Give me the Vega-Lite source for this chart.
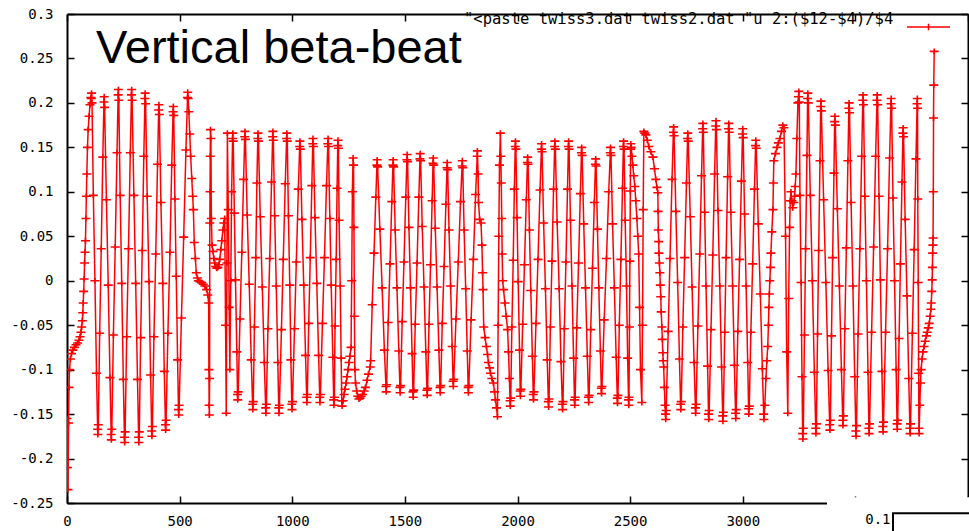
{
"$schema":"https://vega.github.io/schema/vega-lite/v6.json",
"width":901,"height":489,
"autosize":{"type":"none"},
"padding":{"left":67,"top":14,"right":1,"bottom":28},
"background":"white",
"config":{"view":{"stroke":null},"font":"DejaVu Sans Mono"},
"title":{"text":"Vertical beta-beat","anchor":"start","frame":"group","orient":"top","offset":0,"dx":29,"dy":105,"baseline":"alphabetic","font":"Liberation Sans","fontSize":47,"fontWeight":"normal","color":"#000"},
"datasets":{
"beat":[
{"s":0,"b":-0.155},{"s":2,"b":-0.21},{"s":4,"b":-0.235},{"s":7,"b":-0.16},{"s":9,"b":-0.12},{"s":11,"b":-0.1},{"s":15,"b":-0.088},{"s":20,"b":-0.082},{"s":26,"b":-0.078},{"s":33,"b":-0.075},{"s":40,"b":-0.072},{"s":47,"b":-0.07},{"s":53,"b":-0.067},{"s":58,"b":-0.063},{"s":62,"b":-0.058},{"s":65,"b":-0.052},{"s":68,"b":-0.045},{"s":70,"b":-0.036},{"s":72,"b":-0.025},{"s":74,"b":-0.012},{"s":76,"b":0.002},{"s":78,"b":0.02},{"s":80,"b":0.032},{"s":82,"b":0.045},{"s":84,"b":0.07},{"s":86,"b":0.095},{"s":88,"b":0.12},{"s":91,"b":0.15},{"s":94,"b":0.17},{"s":98,"b":0.185},{"s":102,"b":0.198},{"s":106,"b":0.206},
{"s":108,"b":0.205},{"s":109,"b":0.211},{"s":111,"b":0.2},{"s":117,"b":0.096},{"s":124,"b":0.0},{"s":131,"b":-0.104},
{"s":136,"b":-0.167},{"s":137,"b":-0.173},{"s":139,"b":-0.162},{"s":145,"b":-0.059},{"s":152,"b":0.036},{"s":159,"b":0.139},
{"s":164,"b":0.201},{"s":165,"b":0.207},{"s":167,"b":0.195},{"s":175,"b":0.091},{"s":183,"b":-0.005},{"s":191,"b":-0.109},
{"s":196,"b":-0.173},{"s":197,"b":-0.179},{"s":199,"b":-0.167},{"s":206,"b":-0.061},{"s":214,"b":0.038},{"s":222,"b":0.144},
{"s":227,"b":0.209},{"s":228,"b":0.215},{"s":230,"b":0.203},{"s":236,"b":0.096},{"s":243,"b":-0.003},{"s":250,"b":-0.111},
{"s":255,"b":-0.176},{"s":256,"b":-0.182},{"s":258,"b":-0.17},{"s":265,"b":-0.063},{"s":273,"b":0.036},{"s":281,"b":0.144},
{"s":286,"b":0.209},{"s":287,"b":0.215},{"s":289,"b":0.203},{"s":297,"b":0.096},{"s":305,"b":-0.003},{"s":313,"b":-0.111},
{"s":318,"b":-0.176},{"s":319,"b":-0.182},{"s":321,"b":-0.17},{"s":327,"b":-0.064},{"s":334,"b":0.034},{"s":341,"b":0.14},
{"s":346,"b":0.205},{"s":347,"b":0.211},{"s":349,"b":0.199},{"s":356,"b":0.095},{"s":364,"b":-0.001},{"s":371,"b":-0.106},
{"s":376,"b":-0.169},{"s":377,"b":-0.175},{"s":379,"b":-0.164},{"s":386,"b":-0.063},{"s":394,"b":0.03},{"s":402,"b":0.131},
{"s":407,"b":0.192},{"s":408,"b":0.198},{"s":410,"b":0.187},{"s":417,"b":0.088},{"s":425,"b":-0.003},{"s":432,"b":-0.102},
{"s":437,"b":-0.162},{"s":438,"b":-0.168},{"s":440,"b":-0.157},{"s":448,"b":-0.059},{"s":457,"b":0.032},{"s":465,"b":0.13},
{"s":471,"b":0.19},{"s":472,"b":0.196},{"s":474,"b":0.186},{"s":479,"b":0.092},{"s":485,"b":0.005},{"s":491,"b":-0.089},
{"s":495,"b":-0.145},{"s":496,"b":-0.151},{"s":498,"b":-0.14},{"s":508,"b":-0.042},{"s":518,"b":0.049},{"s":528,"b":0.147},
{"s":535,"b":0.206},{"s":536,"b":0.212},
{"s":538,"b":0.205},{"s":541,"b":0.19},{"s":545,"b":0.165},{"s":549,"b":0.14},{"s":554,"b":0.115},{"s":558,"b":0.095},{"s":561,"b":0.08},{"s":565,"b":0.043},{"s":570,"b":0.025},{"s":574,"b":0.009},{"s":579,"b":0.003},{"s":583,"b":0.0},{"s":590,"b":-0.001},{"s":598,"b":-0.002},{"s":605,"b":-0.004},{"s":612,"b":-0.006},{"s":620,"b":-0.01},{"s":625,"b":-0.016},{"s":629,"b":-0.025},{"s":630,"b":-0.1},{"s":631,"b":-0.14},{"s":632,"b":-0.151},{"s":633,"b":-0.11},{"s":634,"b":0.065},{"s":635,"b":0.1},{"s":636,"b":0.14},{"s":637,"b":0.17},{"s":639,"b":0.16},{"s":641,"b":0.07},{"s":644,"b":0.04},{"s":648,"b":0.033},{"s":652,"b":0.025},{"s":656,"b":0.02},{"s":660,"b":0.016},{"s":665,"b":0.014},{"s":670,"b":0.015},{"s":674,"b":0.018},{"s":678,"b":0.024},{"s":683,"b":0.035},{"s":687,"b":0.045},{"s":692,"b":0.057},{"s":696,"b":0.065},{"s":700,"b":0.07},{"s":704,"b":-0.05},{"s":707,"b":-0.149},{"s":710,"b":0.02},{"s":712,"b":0.166},{"s":716,"b":0.08},{"s":720,"b":-0.03},{"s":723,"b":-0.1},{"s":727,"b":0.0},{"s":731,"b":0.1},
{"s":735,"b":0.16},{"s":736,"b":0.166},{"s":738,"b":0.157},{"s":743,"b":0.076},{"s":748,"b":0.001},{"s":754,"b":-0.08},
{"s":757,"b":-0.128},{"s":758,"b":-0.134},{"s":760,"b":-0.125},{"s":768,"b":-0.043},{"s":776,"b":0.032},{"s":784,"b":0.114},
{"s":789,"b":0.162},{"s":790,"b":0.168},{"s":792,"b":0.159},{"s":800,"b":0.074},{"s":809,"b":-0.004},{"s":818,"b":-0.089},
{"s":824,"b":-0.139},{"s":825,"b":-0.145},{"s":827,"b":-0.136},{"s":832,"b":-0.052},{"s":838,"b":0.026},{"s":843,"b":0.11},
{"s":847,"b":0.16},{"s":848,"b":0.166},{"s":850,"b":0.157},{"s":858,"b":0.072},{"s":867,"b":-0.007},{"s":876,"b":-0.092},
{"s":882,"b":-0.143},{"s":883,"b":-0.149},{"s":885,"b":-0.139},{"s":892,"b":-0.054},{"s":900,"b":0.025},{"s":908,"b":0.111},
{"s":913,"b":0.162},{"s":914,"b":0.168},{"s":916,"b":0.158},{"s":922,"b":0.073},{"s":929,"b":-0.006},{"s":936,"b":-0.092},
{"s":940,"b":-0.143},{"s":941,"b":-0.149},{"s":943,"b":-0.14},{"s":952,"b":-0.055},{"s":960,"b":0.024},{"s":969,"b":0.109},
{"s":975,"b":0.16},{"s":976,"b":0.166},{"s":978,"b":0.157},{"s":983,"b":0.073},{"s":989,"b":-0.005},{"s":994,"b":-0.089},
{"s":998,"b":-0.139},{"s":999,"b":-0.145},{"s":1001,"b":-0.136},{"s":1010,"b":-0.054},{"s":1018,"b":0.021},{"s":1027,"b":0.103},
{"s":1033,"b":0.151},{"s":1034,"b":0.157},{"s":1036,"b":0.148},{"s":1043,"b":0.069},{"s":1051,"b":-0.005},{"s":1059,"b":-0.084},
{"s":1064,"b":-0.131},{"s":1065,"b":-0.137},{"s":1067,"b":-0.128},{"s":1073,"b":-0.048},{"s":1080,"b":0.026},{"s":1087,"b":0.107},
{"s":1091,"b":0.154},{"s":1092,"b":0.16},{"s":1094,"b":0.151},{"s":1101,"b":0.071},{"s":1109,"b":-0.003},{"s":1117,"b":-0.084},
{"s":1122,"b":-0.131},{"s":1123,"b":-0.137},{"s":1125,"b":-0.128},{"s":1134,"b":-0.048},{"s":1143,"b":0.026},{"s":1152,"b":0.107},
{"s":1158,"b":0.154},{"s":1159,"b":0.16},{"s":1161,"b":0.151},{"s":1167,"b":0.07},{"s":1173,"b":-0.005},{"s":1180,"b":-0.086},
{"s":1184,"b":-0.134},{"s":1185,"b":-0.14},{"s":1187,"b":-0.131},{"s":1190,"b":-0.051},{"s":1195,"b":0.024},{"s":1199,"b":0.104},
{"s":1202,"b":0.152},{"s":1203,"b":0.158},{"s":1205,"b":0.149},{"s":1208,"b":0.068},{"s":1213,"b":-0.006},{"s":1217,"b":-0.087},
{"s":1220,"b":-0.135},{"s":1221,"b":-0.141},
{"s":1226,"b":-0.135},{"s":1230,"b":-0.128},{"s":1234,"b":-0.122},{"s":1239,"b":-0.115},{"s":1243,"b":-0.108},{"s":1248,"b":-0.1},{"s":1252,"b":-0.092},{"s":1256,"b":-0.085},{"s":1261,"b":-0.075},{"s":1264,"b":0.0},{"s":1267,"b":0.1},{"s":1270,"b":0.138},{"s":1272,"b":0.13},{"s":1274,"b":0.06},{"s":1276,"b":-0.04},{"s":1278,"b":-0.1},{"s":1281,"b":-0.115},{"s":1286,"b":-0.124},{"s":1291,"b":-0.13},{"s":1296,"b":-0.133},{"s":1301,"b":-0.132},{"s":1306,"b":-0.13},{"s":1312,"b":-0.128},{"s":1319,"b":-0.124},{"s":1325,"b":-0.12},{"s":1332,"b":-0.112},{"s":1338,"b":-0.105},
{"s":1346,"b":-0.097},{"s":1348,"b":-0.09},{"s":1355,"b":-0.027},{"s":1363,"b":0.031},{"s":1371,"b":0.094},
{"s":1376,"b":0.13},{"s":1377,"b":0.136},{"s":1379,"b":0.128},{"s":1389,"b":0.058},{"s":1399,"b":-0.008},{"s":1409,"b":-0.078},
{"s":1416,"b":-0.119},{"s":1417,"b":-0.125},{"s":1419,"b":-0.117},{"s":1426,"b":-0.047},{"s":1434,"b":0.019},{"s":1442,"b":0.089},
{"s":1447,"b":0.13},{"s":1448,"b":0.136},{"s":1450,"b":0.128},{"s":1457,"b":0.057},{"s":1465,"b":-0.008},{"s":1473,"b":-0.079},
{"s":1478,"b":-0.12},{"s":1479,"b":-0.126},{"s":1481,"b":-0.118},{"s":1488,"b":-0.046},{"s":1496,"b":0.021},{"s":1504,"b":0.094},
{"s":1509,"b":0.136},{"s":1510,"b":0.142},{"s":1512,"b":0.134},{"s":1518,"b":0.06},{"s":1525,"b":-0.008},{"s":1532,"b":-0.082},
{"s":1536,"b":-0.125},{"s":1537,"b":-0.131},{"s":1539,"b":-0.123},{"s":1546,"b":-0.049},{"s":1554,"b":0.02},{"s":1562,"b":0.094},
{"s":1567,"b":0.137},{"s":1568,"b":0.143},{"s":1570,"b":0.135},{"s":1577,"b":0.061},{"s":1585,"b":-0.007},{"s":1593,"b":-0.08},
{"s":1598,"b":-0.123},{"s":1599,"b":-0.129},{"s":1601,"b":-0.121},{"s":1607,"b":-0.049},{"s":1614,"b":0.018},{"s":1621,"b":0.09},
{"s":1625,"b":0.132},{"s":1626,"b":0.138},{"s":1628,"b":0.13},{"s":1635,"b":0.059},{"s":1643,"b":-0.007},{"s":1651,"b":-0.078},
{"s":1656,"b":-0.12},{"s":1657,"b":-0.126},{"s":1659,"b":-0.118},{"s":1666,"b":-0.048},{"s":1674,"b":0.016},{"s":1682,"b":0.086},
{"s":1687,"b":0.127},{"s":1688,"b":0.133},{"s":1690,"b":0.125},{"s":1696,"b":0.057},{"s":1703,"b":-0.006},{"s":1710,"b":-0.074},
{"s":1714,"b":-0.113},{"s":1715,"b":-0.119},{"s":1717,"b":-0.111},{"s":1727,"b":-0.043},{"s":1737,"b":0.021},{"s":1747,"b":0.089},
{"s":1754,"b":0.129},{"s":1755,"b":0.135},{"s":1757,"b":0.127},{"s":1763,"b":0.057},{"s":1770,"b":-0.009},{"s":1777,"b":-0.079},
{"s":1781,"b":-0.12},{"s":1782,"b":-0.126},{"s":1784,"b":-0.118},{"s":1794,"b":-0.044},{"s":1804,"b":0.024},{"s":1814,"b":0.097},
{"s":1821,"b":0.14},{"s":1822,"b":0.146},
{"s":1825,"b":0.12},{"s":1827,"b":0.088},{"s":1832,"b":0.069},{"s":1838,"b":0.065},{"s":1842,"b":0.04},{"s":1845,"b":0.009},{"s":1847,"b":-0.01},{"s":1850,"b":-0.052},{"s":1856,"b":-0.064},{"s":1862,"b":-0.074},{"s":1867,"b":-0.083},{"s":1871,"b":-0.092},{"s":1876,"b":-0.098},{"s":1880,"b":-0.104},{"s":1886,"b":-0.11},{"s":1893,"b":-0.115},{"s":1898,"b":-0.125},{"s":1902,"b":-0.134},{"s":1907,"b":-0.143},{"s":1911,"b":-0.153},{"s":1914,"b":-0.05},{"s":1917,"b":0.05},{"s":1920,"b":0.13},{"s":1924,"b":0.166},{"s":1926,"b":0.14},{"s":1928,"b":0.11},{"s":1930,"b":0.07},{"s":1932,"b":0.03},{"s":1934,"b":0.0},{"s":1938,"b":-0.01},{"s":1944,"b":-0.025},{"s":1950,"b":-0.04},{"s":1956,"b":-0.055},{"s":1960,"b":-0.08},{"s":1964,"b":-0.11},
{"s":1967,"b":-0.135},{"s":1968,"b":-0.141},{"s":1970,"b":-0.132},{"s":1975,"b":-0.052},{"s":1981,"b":0.023},{"s":1986,"b":0.103},
{"s":1990,"b":0.151},{"s":1991,"b":0.157},{"s":1993,"b":0.148},{"s":1998,"b":0.071},{"s":2003,"b":-0.001},{"s":2009,"b":-0.078},
{"s":2012,"b":-0.124},{"s":2013,"b":-0.13},{"s":2015,"b":-0.122},{"s":2023,"b":-0.049},{"s":2031,"b":0.018},{"s":2039,"b":0.091},
{"s":2044,"b":0.133},{"s":2045,"b":0.139},{"s":2047,"b":0.131},{"s":2053,"b":0.057},{"s":2059,"b":-0.011},{"s":2066,"b":-0.085},
{"s":2070,"b":-0.128},{"s":2071,"b":-0.134},{"s":2073,"b":-0.125},{"s":2082,"b":-0.048},{"s":2091,"b":0.024},{"s":2100,"b":0.102},
{"s":2106,"b":0.148},{"s":2107,"b":0.154},{"s":2109,"b":0.145},{"s":2116,"b":0.065},{"s":2124,"b":-0.009},{"s":2132,"b":-0.089},
{"s":2137,"b":-0.136},{"s":2138,"b":-0.142},{"s":2140,"b":-0.133},{"s":2146,"b":-0.052},{"s":2153,"b":0.022},{"s":2160,"b":0.103},
{"s":2165,"b":0.151},{"s":2166,"b":0.157},{"s":2168,"b":0.148},{"s":2176,"b":0.066},{"s":2185,"b":-0.009},{"s":2193,"b":-0.091},
{"s":2199,"b":-0.139},{"s":2200,"b":-0.145},{"s":2202,"b":-0.136},{"s":2208,"b":-0.054},{"s":2215,"b":0.021},{"s":2222,"b":0.103},
{"s":2226,"b":0.151},{"s":2227,"b":0.157},{"s":2229,"b":0.148},{"s":2235,"b":0.068},{"s":2242,"b":-0.006},{"s":2249,"b":-0.087},
{"s":2253,"b":-0.134},{"s":2254,"b":-0.14},{"s":2256,"b":-0.131},{"s":2263,"b":-0.053},{"s":2271,"b":0.02},{"s":2279,"b":0.098},
{"s":2284,"b":0.144},{"s":2285,"b":0.15},{"s":2287,"b":0.141},{"s":2294,"b":0.064},{"s":2302,"b":-0.008},{"s":2310,"b":-0.085},
{"s":2315,"b":-0.131},{"s":2316,"b":-0.137},{"s":2318,"b":-0.129},{"s":2325,"b":-0.055},{"s":2333,"b":0.014},{"s":2341,"b":0.088},
{"s":2346,"b":0.131},{"s":2347,"b":0.137},{"s":2349,"b":0.129},{"s":2355,"b":0.058},{"s":2361,"b":-0.008},{"s":2368,"b":-0.079},
{"s":2372,"b":-0.121},{"s":2373,"b":-0.127},{"s":2375,"b":-0.119},{"s":2385,"b":-0.044},{"s":2395,"b":0.025},{"s":2405,"b":0.1},
{"s":2412,"b":0.144},{"s":2413,"b":0.15},{"s":2415,"b":0.141},{"s":2422,"b":0.064},{"s":2430,"b":-0.008},{"s":2438,"b":-0.086},
{"s":2443,"b":-0.132},{"s":2444,"b":-0.138},{"s":2446,"b":-0.129},{"s":2452,"b":-0.05},{"s":2459,"b":0.024},{"s":2466,"b":0.104},
{"s":2470,"b":0.151},{"s":2471,"b":0.157},{"s":2473,"b":0.148},{"s":2478,"b":0.068},{"s":2484,"b":-0.006},{"s":2489,"b":-0.087},
{"s":2493,"b":-0.134},{"s":2494,"b":-0.14},{"s":2495,"b":-0.131},{"s":2497,"b":-0.052},{"s":2499,"b":0.022},{"s":2501,"b":0.101},
{"s":2502,"b":0.148},{"s":2503,"b":0.154},
{"s":2505,"b":0.15},{"s":2508,"b":0.14},{"s":2512,"b":0.13},{"s":2516,"b":0.118},{"s":2521,"b":0.106},{"s":2525,"b":0.09},{"s":2530,"b":0.07},{"s":2534,"b":0.05},{"s":2538,"b":0.03},{"s":2542,"b":-0.03},{"s":2546,"b":-0.1},{"s":2552,"b":-0.137},{"s":2555,"b":-0.05},{"s":2558,"b":0.08},{"s":2561,"b":0.168},{"s":2565,"b":0.166},{"s":2570,"b":0.164},{"s":2576,"b":0.158},{"s":2583,"b":0.151},{"s":2592,"b":0.145},{"s":2601,"b":0.139},{"s":2608,"b":0.126},{"s":2614,"b":0.114},{"s":2619,"b":0.105},{"s":2623,"b":0.099},{"s":2624,"b":0.078},{"s":2625,"b":0.057},{"s":2627,"b":0.044},{"s":2628,"b":0.031},{"s":2630,"b":0.02},{"s":2632,"b":0.009},{"s":2634,"b":-0.005},{"s":2636,"b":-0.018},{"s":2638,"b":-0.035},{"s":2641,"b":-0.052},{"s":2643,"b":-0.066},{"s":2645,"b":-0.081},{"s":2647,"b":-0.09},{"s":2649,"b":-0.097},{"s":2652,"b":-0.12},{"s":2655,"b":-0.14},
{"s":2657,"b":-0.15},{"s":2658,"b":-0.156},{"s":2660,"b":-0.146},{"s":2669,"b":-0.057},{"s":2677,"b":0.025},{"s":2686,"b":0.114},
{"s":2692,"b":0.167},{"s":2693,"b":0.173},{"s":2695,"b":0.163},{"s":2703,"b":0.078},{"s":2711,"b":-0.002},{"s":2719,"b":-0.088},
{"s":2724,"b":-0.139},{"s":2725,"b":-0.145},{"s":2727,"b":-0.136},{"s":2734,"b":-0.052},{"s":2742,"b":0.026},{"s":2750,"b":0.11},
{"s":2755,"b":0.16},{"s":2756,"b":0.166},{"s":2758,"b":0.157},{"s":2767,"b":0.072},{"s":2775,"b":-0.007},{"s":2784,"b":-0.092},
{"s":2790,"b":-0.143},{"s":2791,"b":-0.149},{"s":2793,"b":-0.139},{"s":2801,"b":-0.051},{"s":2809,"b":0.03},{"s":2817,"b":0.118},
{"s":2822,"b":0.171},{"s":2823,"b":0.177},{"s":2825,"b":0.167},{"s":2831,"b":0.077},{"s":2837,"b":-0.006},{"s":2844,"b":-0.096},
{"s":2848,"b":-0.15},{"s":2849,"b":-0.156},{"s":2851,"b":-0.146},{"s":2859,"b":-0.055},{"s":2867,"b":0.029},{"s":2875,"b":0.12},
{"s":2880,"b":0.174},{"s":2881,"b":0.18},{"s":2883,"b":0.17},{"s":2890,"b":0.079},{"s":2898,"b":-0.006},{"s":2906,"b":-0.097},
{"s":2911,"b":-0.152},{"s":2912,"b":-0.158},{"s":2914,"b":-0.148},{"s":2920,"b":-0.058},{"s":2926,"b":0.026},{"s":2933,"b":0.117},
{"s":2937,"b":0.171},{"s":2938,"b":0.177},{"s":2940,"b":0.167},{"s":2947,"b":0.077},{"s":2955,"b":-0.006},{"s":2963,"b":-0.095},
{"s":2968,"b":-0.149},{"s":2969,"b":-0.155},{"s":2971,"b":-0.145},{"s":2978,"b":-0.057},{"s":2986,"b":0.024},{"s":2994,"b":0.112},
{"s":2999,"b":0.165},{"s":3000,"b":0.171},{"s":3002,"b":0.161},{"s":3008,"b":0.075},{"s":3015,"b":-0.006},{"s":3022,"b":-0.092},
{"s":3026,"b":-0.144},{"s":3027,"b":-0.15},{"s":3029,"b":-0.141},{"s":3036,"b":-0.058},{"s":3044,"b":0.019},{"s":3052,"b":0.103},
{"s":3057,"b":0.152},{"s":3058,"b":0.158},{"s":3060,"b":0.149},{"s":3069,"b":0.064},{"s":3078,"b":-0.015},{"s":3087,"b":-0.099},
{"s":3093,"b":-0.15},{"s":3094,"b":-0.156},
{"s":3098,"b":-0.14},{"s":3103,"b":-0.11},{"s":3107,"b":-0.09},{"s":3111,"b":-0.074},{"s":3114,"b":-0.05},{"s":3116,"b":-0.03},{"s":3118,"b":-0.015},{"s":3120,"b":0.0},{"s":3123,"b":0.015},{"s":3125,"b":0.031},{"s":3129,"b":0.055},{"s":3134,"b":0.08},{"s":3136,"b":0.11},{"s":3138,"b":0.135},{"s":3145,"b":0.143},{"s":3152,"b":0.15},{"s":3158,"b":0.155},{"s":3165,"b":0.16},{"s":3172,"b":0.168},{"s":3178,"b":0.175},{"s":3183,"b":0.172},{"s":3190,"b":0.05},{"s":3195,"b":-0.08},{"s":3200,"b":-0.149},{"s":3204,"b":-0.02},{"s":3208,"b":0.06},{"s":3211,"b":0.09},{"s":3214,"b":0.1},{"s":3218,"b":0.09},{"s":3222,"b":0.082},{"s":3227,"b":0.088},{"s":3230,"b":0.095},{"s":3233,"b":0.106},{"s":3236,"b":0.12},{"s":3240,"b":0.16},{"s":3245,"b":0.2},
{"s":3248,"b":0.207},{"s":3249,"b":0.213},{"s":3251,"b":0.201},{"s":3254,"b":0.096},{"s":3259,"b":-0.002},{"s":3263,"b":-0.108},
{"s":3266,"b":-0.172},{"s":3267,"b":-0.178},{"s":3269,"b":-0.166},{"s":3274,"b":-0.061},{"s":3279,"b":0.036},{"s":3285,"b":0.141},
{"s":3288,"b":0.205},{"s":3289,"b":0.211},{"s":3291,"b":0.2},{"s":3300,"b":0.096},{"s":3309,"b":0.0},{"s":3318,"b":-0.103},
{"s":3324,"b":-0.166},{"s":3325,"b":-0.172},{"s":3327,"b":-0.161},{"s":3332,"b":-0.06},{"s":3337,"b":0.034},{"s":3343,"b":0.135},
{"s":3346,"b":0.196},{"s":3347,"b":0.202},{"s":3349,"b":0.191},{"s":3359,"b":0.091},{"s":3369,"b":-0.002},{"s":3379,"b":-0.101},
{"s":3386,"b":-0.162},{"s":3387,"b":-0.168},{"s":3389,"b":-0.157},{"s":3394,"b":-0.062},{"s":3399,"b":0.026},{"s":3405,"b":0.121},
{"s":3408,"b":0.179},{"s":3409,"b":0.185},{"s":3411,"b":0.175},{"s":3420,"b":0.081},{"s":3429,"b":-0.006},{"s":3438,"b":-0.1},
{"s":3444,"b":-0.157},{"s":3445,"b":-0.163},{"s":3447,"b":-0.152},{"s":3453,"b":-0.054},{"s":3460,"b":0.037},{"s":3467,"b":0.135},
{"s":3471,"b":0.194},{"s":3472,"b":0.2},{"s":3474,"b":0.189},{"s":3481,"b":0.088},{"s":3489,"b":-0.006},{"s":3497,"b":-0.108},
{"s":3502,"b":-0.169},{"s":3503,"b":-0.175},{"s":3505,"b":-0.163},{"s":3512,"b":-0.06},{"s":3520,"b":0.036},{"s":3528,"b":0.14},
{"s":3533,"b":0.203},{"s":3534,"b":0.209},{"s":3536,"b":0.198},{"s":3542,"b":0.095},{"s":3549,"b":0.0},{"s":3556,"b":-0.103},
{"s":3560,"b":-0.166},{"s":3561,"b":-0.172},{"s":3563,"b":-0.161},{"s":3572,"b":-0.058},{"s":3581,"b":0.038},{"s":3590,"b":0.14},
{"s":3596,"b":0.203},{"s":3597,"b":0.209},{"s":3599,"b":0.198},{"s":3605,"b":0.095},{"s":3611,"b":0.001},{"s":3618,"b":-0.102},
{"s":3622,"b":-0.164},{"s":3623,"b":-0.17},{"s":3625,"b":-0.159},{"s":3634,"b":-0.058},{"s":3643,"b":0.036},{"s":3652,"b":0.138},
{"s":3658,"b":0.199},{"s":3659,"b":0.205},{"s":3661,"b":0.194},{"s":3667,"b":0.093},{"s":3674,"b":0.0},{"s":3681,"b":-0.1},
{"s":3685,"b":-0.161},{"s":3686,"b":-0.167},{"s":3688,"b":-0.157},{"s":3694,"b":-0.065},{"s":3700,"b":0.019},{"s":3707,"b":0.111},
{"s":3711,"b":0.166},{"s":3712,"b":0.172},{"s":3714,"b":0.162},{"s":3721,"b":0.069},{"s":3729,"b":-0.017},{"s":3737,"b":-0.11},
{"s":3742,"b":-0.166},{"s":3743,"b":-0.172},{"s":3745,"b":-0.161},{"s":3753,"b":-0.059},{"s":3761,"b":0.035},{"s":3769,"b":0.137},
{"s":3774,"b":0.199},{"s":3775,"b":0.205},{"s":3776,"b":0.194},{"s":3777,"b":0.092},{"s":3779,"b":-0.002},{"s":3781,"b":-0.104},
{"s":3782,"b":-0.166},{"s":3783,"b":-0.172},
{"s":3786,"b":-0.14},{"s":3789,"b":-0.115},{"s":3792,"b":-0.1},{"s":3796,"b":-0.088},{"s":3800,"b":-0.08},{"s":3805,"b":-0.074},{"s":3810,"b":-0.068},{"s":3815,"b":-0.062},{"s":3819,"b":-0.058},{"s":3824,"b":-0.053},{"s":3828,"b":-0.048},{"s":3832,"b":-0.04},{"s":3835,"b":-0.032},{"s":3837,"b":-0.025},{"s":3839,"b":-0.012},{"s":3841,"b":0.001},{"s":3842,"b":0.015},{"s":3843,"b":0.031},{"s":3844,"b":0.04},{"s":3845,"b":0.048},{"s":3846,"b":0.1},{"s":3847,"b":0.183},{"s":3848,"b":0.22},{"s":3850,"b":0.258}
],
"cover":[{"x1":3374,"x2":4300,"y1":-0.2435,"y2":-0.33}],
"box":[{"x1":3667,"x2":4300,"y1":-0.2615,"y2":-0.4}],
"lbl":[{"x1":3600,"y1":-0.274,"t":"0.1"}]
},
"layer":[
{"data":{"name":"beat"},
 "mark":{"type":"line","strokeWidth":1.5,"clip":true},
 "encoding":{
  "x":{"field":"s","type":"quantitative","scale":{"domain":[0,4000],"nice":false,"zero":false},
       "axis":{"orient":"bottom","values":[0,500,1000,1500,2000,2500,3000,3500,4000],"labelExpr":"datum.value > 3000 ? '' : toString(datum.value)","title":null,"grid":false,"tickSize":-7,"tickColor":"#000","tickWidth":1.5,"domainColor":"#000","domainWidth":2,"labelFont":"DejaVu Sans Mono","labelFontSize":14,"labelColor":"#000","labelPadding":18,"labelFlush":false,"labelOverlap":false}},
  "y":{"field":"b","type":"quantitative","scale":{"domain":[-0.25,0.3],"nice":false,"zero":false},
       "axis":{"orient":"left","values":[-0.25,-0.2,-0.15,-0.1,-0.05,0,0.05,0.1,0.15,0.2,0.25,0.3],"labelExpr":"toString(datum.value)","title":null,"grid":false,"tickSize":-7,"tickColor":"#000","tickWidth":1.5,"domainColor":"#000","domainWidth":2,"labelFont":"DejaVu Sans Mono","labelFontSize":14,"labelColor":"#000","labelPadding":21,"labelFlush":false,"labelOverlap":false}},
  "color":{"datum":"beat","type":"nominal","scale":{"range":["#ff0000"]},
       "legend":{"title":"\"<paste twiss3.dat twiss2.dat \"u 2:($12-$4)/$4","orient":"none","legendX":397,"legendY":-9.5,"titleOrient":"left","titleFont":"DejaVu Sans Mono","titleFontSize":15.5,"titleFontWeight":"normal","titleColor":"#000","titleLimit":1000,"titlePadding":12,"titleAnchor":"middle","titleBaseline":"middle","symbolType":"M-1,0H1M0,-0.15V0.15","symbolSize":1849,"symbolStrokeWidth":1.5,"symbolStrokeColor":"#ff0000","symbolFillColor":"transparent","symbolOpacity":1,"labelExpr":"''","labelOffset":0,"padding":0}}
 }},
{"data":{"name":"beat"},
 "mark":{"type":"point","shape":"M-1,0H1M0,-0.65V0.65","filled":false,"stroke":"#ff0000","strokeWidth":1.6,"size":81,"opacity":1,"clip":true},
 "encoding":{
  "x":{"field":"s","type":"quantitative","scale":{"domain":[0,4000],"nice":false,"zero":false},
       "axis":{"orient":"top","values":[0,500,1000,1500,2000,2500,3000,3500,4000],"labels":false,"title":null,"grid":false,"tickSize":-7,"tickColor":"#000","tickWidth":1.5,"domainColor":"#000","domainWidth":2}},
  "y":{"field":"b","type":"quantitative","scale":{"domain":[-0.25,0.3],"nice":false,"zero":false},
       "axis":{"orient":"right","values":[-0.25,-0.2,-0.15,-0.1,-0.05,0,0.05,0.1,0.15,0.2,0.25,0.3],"labels":false,"title":null,"grid":false,"tickSize":-7,"tickColor":"#000","tickWidth":1.5,"domainColor":"#000","domainWidth":2}}
 }},
{"data":{"name":"cover"},
 "mark":{"type":"rect","fill":"#ffffff","stroke":null,"clip":false},
 "encoding":{
  "x":{"field":"x1","type":"quantitative","axis":null},"x2":{"field":"x2"},
  "y":{"field":"y1","type":"quantitative","axis":null},"y2":{"field":"y2"}}},
{"data":{"name":"box"},
 "mark":{"type":"rect","fill":"#ffffff","stroke":"#000000","strokeWidth":2,"clip":false},
 "encoding":{
  "x":{"field":"x1","type":"quantitative","axis":null},"x2":{"field":"x2"},
  "y":{"field":"y1","type":"quantitative","axis":null},"y2":{"field":"y2"}}},
{"data":{"name":"lbl"},
 "mark":{"type":"text","font":"DejaVu Sans Mono","fontSize":14,"color":"#000","align":"center","baseline":"alphabetic","clip":false},
 "encoding":{
  "x":{"field":"x1","type":"quantitative","axis":null},
  "y":{"field":"y1","type":"quantitative","axis":null},
  "text":{"field":"t"}}}
],
"resolve":{"axis":{"x":"independent","y":"independent"}}
}
